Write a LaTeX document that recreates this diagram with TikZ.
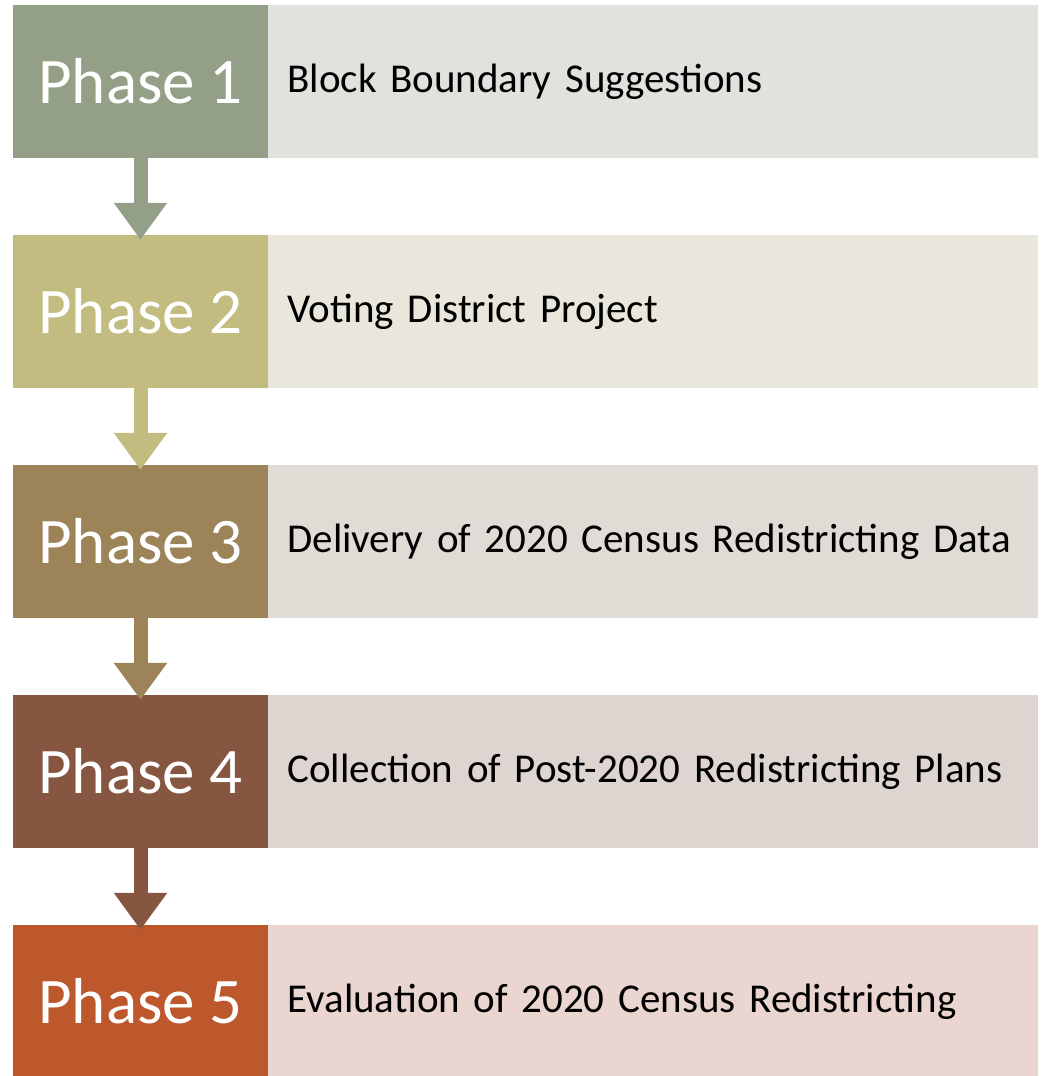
\documentclass[tikz,border=0pt]{standalone}
\usepackage{fontspec}
\setmainfont{Carlito}
\usetikzlibrary{positioning,arrows.meta}

\definecolor{ph1}{RGB}{148,159,135}
\definecolor{ph2}{RGB}{194,188,128}
\definecolor{ph3}{RGB}{156,131,88}
\definecolor{ph4}{RGB}{134,86,65}
\definecolor{ph5}{RGB}{188,88,44}
\definecolor{bg1}{RGB}{224,226,221}
\definecolor{bg2}{RGB}{233,231,219}
\definecolor{bg3}{RGB}{224,220,213}
\definecolor{bg4}{RGB}{222,213,209}
\definecolor{bg5}{RGB}{234,213,208}

\tikzset{
	phasebox/.style={minimum width=255pt,minimum height=153pt,inner sep=0pt,
		text=white,font=\fontsize{65}{70}\selectfont},
	descbox/.style={minimum height=153pt,text width=770pt,inner sep=0pt,
		align=left,font=\fontsize{41}{46}\selectfont,
		execute at begin node=\hspace*{19pt}},
	flow/.style={line width=14pt,-{Triangle[width=51pt,length=37pt]}}
}

\begin{document}
\begin{tikzpicture}
		[x=1pt,y=-1pt]
		\useasboundingbox (0,0) rectangle (1041,1076);

		\foreach \i/\txt in {1/Block Boundary Suggestions,
			2/Voting District Project,
			3/Delivery of 2020 Census Redistricting Data,
			4/Collection of Post-2020 Redistricting Plans,
			5/Evaluation of 2020 Census Redistricting}
		{
			\node[phasebox,fill=ph\i] (ph\i) at (140.5,81.5+230*\i-230) {Phase \i};
			\node[descbox,fill=bg\i,right=0pt of ph\i] (desc\i) {\txt};
		}

		% arrows between the phases
		\foreach \i [count=\j from 2] in {1,...,4}
			\draw[flow,ph\i] (ph\i.south) -- ([yshift=-5pt]ph\j.north);

	\end{tikzpicture}
\end{document}
